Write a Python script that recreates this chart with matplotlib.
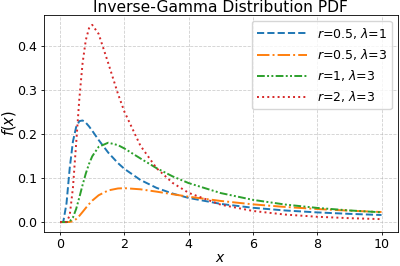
import matplotlib.pyplot as plt

# valores (x e f(x) de cada curva)
x = [0, 0.1, 0.2, 0.3, 0.4, 0.5, 0.6, 0.7, 0.8, 0.9, 1.0, 1.2, 1.5, 1.8, 2.0,
     2.5, 3.0, 3.5, 4.0, 5.0, 6.0, 7.0, 8.0, 9.0, 10.0]
f_r05_l1 = [0, 0.0008, 0.0425, 0.1225, 0.1831, 0.2159, 0.2294, 0.2309, 0.2259, 0.2175, 0.2076,
            0.1865, 0.1577, 0.1341, 0.1210, 0.0957, 0.0778, 0.0648, 0.0549, 0.0413, 0.0325,
            0.0264, 0.0220, 0.0187, 0.0161]
f_r05_l3 = [0, 0, 0, 0.0003, 0.0021, 0.0069, 0.0142, 0.0230, 0.0321, 0.0408, 0.0487,
            0.0610, 0.0720, 0.0764, 0.0771, 0.0745, 0.0692, 0.0633, 0.0577, 0.0480, 0.0403,
            0.0344, 0.0297, 0.0259, 0.0229]
f_r1_l3 = [0, 0, 0, 0.0015, 0.0104, 0.0298, 0.0562, 0.0843, 0.1103, 0.1321, 0.1494,
           0.1710, 0.1804, 0.1749, 0.1673, 0.1446, 0.1226, 0.1039, 0.0886, 0.0659, 0.0505,
           0.0399, 0.0322, 0.0265, 0.0222]
f_r2_l3 = [0, 0, 0.0003, 0.0151, 0.0778, 0.1785, 0.2808, 0.3611, 0.4134, 0.4404, 0.4481,
           0.4275, 0.3608, 0.2916, 0.2510, 0.1735, 0.1226, 0.0891, 0.0664, 0.0395, 0.0253,
           0.0171, 0.0121, 0.0089, 0.0067]
labels = [r'$r$=0.5, $\lambda$=1', r'$r$=0.5, $\lambda$=3', r'$r$=1, $\lambda$=3', r'$r$=2, $\lambda$=3']

fig, ax = plt.subplots(figsize=(4, 2.66), dpi=100)
fig.subplots_adjust(left=0.11, right=0.994, top=0.9436, bottom=0.128)

lw = 1.4
ax.plot(x, f_r05_l1, color='#1f77b4', linestyle='--', lw=lw, label=labels[0])
ax.plot(x, f_r05_l3, color='#ff7f0e', linestyle='-.', lw=lw, label=labels[1])
ax.plot(x, f_r1_l3, color='#2ca02c', linestyle=(0, (4, 1.2, 1, 1.2, 1, 1.2)), lw=lw, label=labels[2])
ax.plot(x, f_r2_l3, color='#d62728', linestyle=':', lw=lw, label=labels[3])

ax.set_title('Inverse-Gamma Distribution PDF', fontsize=11.2, pad=2)
ax.set_xlabel(r'$x$', fontsize=10, labelpad=0)
ax.set_ylabel(r'$f(x)$', fontsize=10.5, labelpad=0)
ax.tick_params(labelsize=9.1, length=2.3, pad=2.3, width=0.6)
for s in ax.spines.values():
    s.set_linewidth(0.6)
ax.set_xticks([0, 2, 4, 6, 8, 10])
ax.set_yticks([0.0, 0.1, 0.2, 0.3, 0.4])
ax.grid(True, linestyle='--', lw=0.6, alpha=0.6)
ax.legend(loc='upper right', fontsize=9, handlelength=4, borderaxespad=0.45)

plt.savefig('out.png', dpi=100)
